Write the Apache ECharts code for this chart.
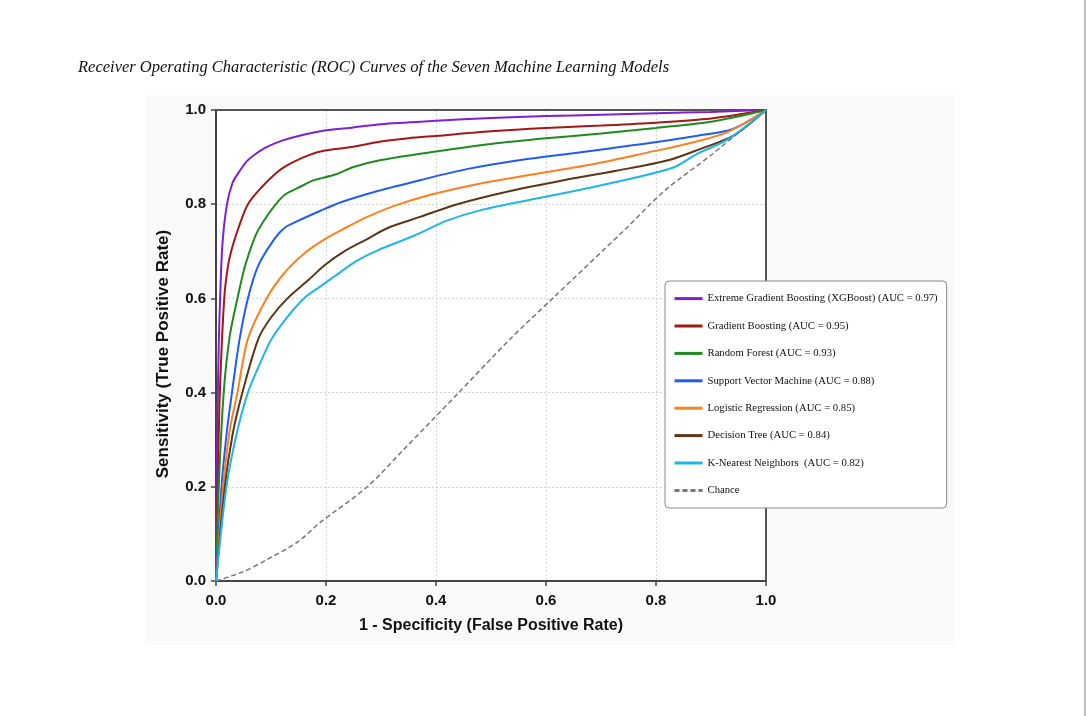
<!DOCTYPE html>
<html>
<head>
<meta charset="utf-8">
<title>ROC Curves</title>
<script src="https://cdn.jsdelivr.net/npm/echarts@6/dist/echarts.min.js"></script>
<style>
  html, body { margin: 0; padding: 0; background: #fff; }
  #rocChart { width: 1087px; height: 716px; }
</style>
</head>
<body>
<div id="rocChart"></div>
<script>
// 各模型 ROC 曲线点 [FPR, TPR]
var xgbPoints = [[0,0],[0.002,0.3],[0.005,0.5],[0.008,0.62],[0.012,0.72],[0.02,0.8],[0.03,0.845],[0.04,0.865],[0.055,0.89],[0.07,0.905],[0.09,0.92],[0.12,0.935],[0.15,0.945],[0.2,0.957],[0.25,0.963],[0.3,0.97],[0.4,0.977],[0.5,0.983],[0.6,0.987],[0.7,0.99],[0.8,0.993],[0.9,0.996],[1,1]];
var gbPoints = [[0,0],[0.003,0.2],[0.007,0.4],[0.015,0.6],[0.022,0.67],[0.03,0.71],[0.041,0.75],[0.058,0.8],[0.082,0.835],[0.11,0.867],[0.13,0.883],[0.16,0.9],[0.19,0.912],[0.25,0.922],[0.3,0.933],[0.35,0.94],[0.4,0.945],[0.5,0.955],[0.6,0.962],[0.7,0.967],[0.8,0.973],[0.9,0.982],[1,1]];
var rfPoints = [[0,0],[0.005,0.2],[0.014,0.4],[0.025,0.52],[0.039,0.6],[0.053,0.67],[0.072,0.734],[0.087,0.765],[0.106,0.796],[0.125,0.82],[0.15,0.835],[0.178,0.851],[0.217,0.863],[0.25,0.879],[0.3,0.894],[0.4,0.912],[0.5,0.928],[0.6,0.94],[0.7,0.95],[0.8,0.962],[0.9,0.975],[1,1]];
var svmPoints = [[0,0],[0.01,0.2],[0.02,0.32],[0.029,0.4],[0.043,0.514],[0.058,0.6],[0.077,0.67],[0.106,0.726],[0.125,0.75],[0.15,0.765],[0.188,0.785],[0.227,0.804],[0.294,0.828],[0.371,0.851],[0.458,0.875],[0.554,0.894],[0.66,0.91],[0.757,0.925],[0.873,0.945],[0.94,0.96],[1,1]];
var lrPoints = [[0,0],[0.013,0.2],[0.025,0.32],[0.039,0.4],[0.058,0.514],[0.092,0.6],[0.125,0.655],[0.16,0.695],[0.198,0.726],[0.236,0.75],[0.275,0.773],[0.323,0.796],[0.39,0.82],[0.477,0.843],[0.574,0.863],[0.69,0.886],[0.786,0.91],[0.863,0.93],[0.93,0.953],[1,1]];
var dtPoints = [[0,0],[0.016,0.2],[0.03,0.31],[0.048,0.4],[0.077,0.514],[0.101,0.561],[0.13,0.6],[0.169,0.64],[0.198,0.671],[0.236,0.702],[0.275,0.726],[0.313,0.75],[0.371,0.773],[0.439,0.8],[0.535,0.828],[0.632,0.851],[0.728,0.871],[0.824,0.894],[0.882,0.918],[0.94,0.945],[1,1]];
var knnPoints = [[0,0],[0.019,0.2],[0.037,0.31],[0.058,0.4],[0.082,0.467],[0.101,0.514],[0.13,0.561],[0.16,0.6],[0.188,0.624],[0.217,0.648],[0.255,0.679],[0.294,0.702],[0.362,0.734],[0.42,0.765],[0.487,0.789],[0.583,0.812],[0.68,0.835],[0.757,0.855],[0.834,0.879],[0.873,0.906],[0.93,0.937],[1,1]];
var chancePoints = [[0,0],[0.05,0.02],[0.092,0.045],[0.15,0.084],[0.188,0.123],[0.275,0.2],[0.342,0.28],[0.439,0.397],[0.535,0.514],[0.612,0.6],[0.747,0.75],[0.815,0.828],[0.902,0.906],[1,1]];

var modelNames = [
  'Extreme Gradient Boosting (XGBoost) (AUC = 0.97)',
  'Gradient Boosting (AUC = 0.95)',
  'Random Forest (AUC = 0.93)',
  'Support Vector Machine (AUC = 0.88)',
  'Logistic Regression (AUC = 0.85)',
  'Decision Tree (AUC = 0.84)',
  'K-Nearest Neighbors  (AUC = 0.82)',
  'Chance'
];
var modelColors = ['#7e1fd3', '#a51717', '#1f8a1f', '#1f5cf5', '#ff7f1e', '#5e3515', '#1fb5e6', '#777777'];
var modelPoints = [xgbPoints, gbPoints, rfPoints, svmPoints, lrPoints, dtPoints, knnPoints, chancePoints];

var myChart = echarts.init(document.getElementById('rocChart'));

var series = [];
for (var i = 0; i < modelNames.length; i++) {
  var isChance = modelNames[i] == 'Chance';
  series.push({
    name: modelNames[i],
    type: 'line',
    xAxisIndex: 0,
    yAxisIndex: 0,
    data: modelPoints[i],
    symbol: 'none',
    smooth: 0.3,
    z: isChance ? 1 : 2 + i,
    lineStyle: {
      color: modelColors[i],
      width: isChance ? 1.5 : 2,
      type: isChance ? [5, 3] : 'solid'
    },
    itemStyle: { color: modelColors[i] }
  });
}

var tickFont = {
  fontFamily: 'Liberation Sans, Arial, sans-serif',
  fontWeight: 'bold',
  fontSize: 15,
  color: '#111'
};
// 上、右边框
var spineLine = { show: true, onZero: false, lineStyle: { color: '#555', width: 2 } };

var option = {
  backgroundColor: '#fff',
  animation: false,
  graphic: [
    {
      type: 'rect',
      z: -10,
      shape: { x: 145, y: 95, width: 810, height: 550 },
      style: { fill: '#fafafa' }
    },
    {
      type: 'line',
      z: -5,
      shape: { x1: 1085, y1: 0, x2: 1085, y2: 716 },
      style: { stroke: '#aaaaaa', lineWidth: 1.5 }
    },
    {
      type: 'text',
      left: 78,
      top: 59,
      style: {
        text: 'Receiver Operating Characteristic (ROC) Curves of the Seven Machine Learning Models',
        font: 'italic 16.5px "Liberation Serif", "Times New Roman", serif',
        fill: '#111'
      }
    },
    {
      type: 'text',
      x: 163,
      y: 354,
      rotation: Math.PI / 2,
      style: {
        text: 'Sensitivity (True Positive Rate)',
        font: 'bold 17px "Liberation Sans", Arial, sans-serif',
        fill: '#111',
        align: 'center',
        verticalAlign: 'middle'
      }
    }
  ],
  grid: {
    left: 216,
    right: 321,
    top: 110,
    bottom: 135,
    show: true,
    backgroundColor: '#fff',
    borderWidth: 0
  },
  legend: {
    orient: 'vertical',
    left: 665,
    top: 281,
    data: modelNames,
    itemWidth: 28,
    itemHeight: 14,
    itemGap: 16.2,
    padding: [12, 9, 12, 8],
    backgroundColor: '#fff',
    borderColor: '#888',
    borderWidth: 1,
    borderRadius: 4,
    lineStyle: { width: 3 },
    itemStyle: { opacity: 0, borderWidth: 0 },
    textStyle: {
      fontFamily: 'Liberation Serif, Times New Roman, serif',
      fontSize: 10.7,
      color: '#111'
    }
  },
  xAxis: [
    {
      type: 'value',
      min: 0,
      max: 1,
      interval: 0.2,
      name: '1 - Specificity (False Positive Rate)',
      nameLocation: 'middle',
      nameGap: 37,
      nameTextStyle: {
        fontFamily: 'Liberation Sans, Arial, sans-serif',
        fontWeight: 'bold',
        fontSize: 16,
        color: '#111'
      },
      axisLine: { show: true, onZero: false, lineStyle: { color: '#444', width: 2 } },
      axisTick: { show: true, inside: false, length: 5, lineStyle: { color: '#444', width: 1.5 } },
      axisLabel: Object.assign({ margin: 12, formatter: function (v) { return v.toFixed(1); } }, tickFont),
      splitLine: { show: true, showMinLine: false, showMaxLine: false, lineStyle: { color: '#d4d4d4', type: [2, 2], width: 1 } }
    },
    {
      type: 'value',
      position: 'top',
      min: 0,
      max: 1,
      axisLine: spineLine,
      axisTick: { show: false },
      axisLabel: { show: false },
      splitLine: { show: false }
    }
  ],
  yAxis: [
    {
      type: 'value',
      min: 0,
      max: 1,
      interval: 0.2,
      axisLine: { show: true, onZero: false, lineStyle: { color: '#444', width: 2 } },
      axisTick: { show: true, inside: false, length: 5, lineStyle: { color: '#444', width: 1.5 } },
      axisLabel: Object.assign({ margin: 10, formatter: function (v) { return v.toFixed(1); } }, tickFont),
      splitLine: { show: true, showMinLine: false, showMaxLine: false, lineStyle: { color: '#d4d4d4', type: [2, 2], width: 1 } }
    },
    {
      type: 'value',
      position: 'right',
      min: 0,
      max: 1,
      axisLine: spineLine,
      axisTick: { show: false },
      axisLabel: { show: false },
      splitLine: { show: false }
    }
  ],
  series: series
};

myChart.setOption(option, true);
</script>
</body>
</html>
